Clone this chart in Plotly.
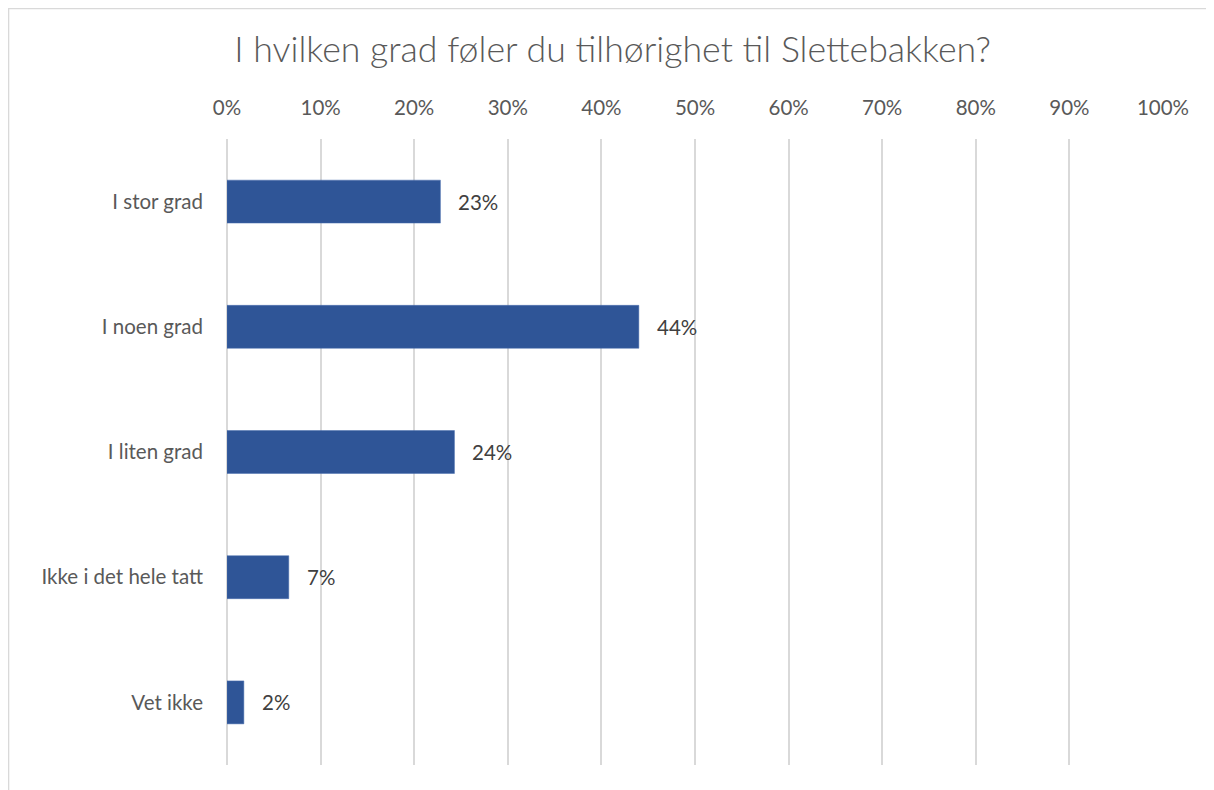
import plotly.graph_objects as go

categories = ['I stor grad', 'I noen grad', 'I liten grad', 'Ikke i det hele tatt', 'Vet ikke']
shares = [0.228, 0.440, 0.243, 0.066, 0.018]
title_text = 'I hvilken grad føler du tilhørighet til Slettebakken?'

fig = go.Figure()
fig.add_trace(go.Bar(
    x=shares, y=categories, orientation='h',
    marker=dict(color='#2f5597', line=dict(color='#4a6faf', width=0.5)),
    hoverinfo='x+y'))

# data labels to the right of each bar
for c, v in zip(categories, shares):
    fig.add_annotation(x=v, y=c, text='{:.0%}'.format(v), showarrow=False,
                       xanchor='left', xshift=16,
                       font=dict(family='Lato', size=20.5, color='#404040'))

# chart-area border (clipped like the original)
fig.add_shape(type='rect', xref='paper', yref='paper',
              x0=-0.2334, x1=1.2, y0=-0.2, y1=1.2085,
              line=dict(color='#d9d9d9', width=1.5), layer='below')

fig.update_layout(
    title=dict(text=title_text, x=0.498, xanchor='center', y=1 - 42 / 790,
               yanchor='middle',
               font=dict(family='Lato', size=35.7, color='#595959', weight=300)),
    width=1214, height=790,
    margin=dict(l=219, r=59, t=131, b=33, pad=0),
    plot_bgcolor='white', paper_bgcolor='white',
    bargap=0.657, showlegend=False,
    font=dict(family='Lato', size=20.5, color='#595959'))

fig.update_xaxes(side='top', range=[0, 1], dtick=0.1, tickformat='.0%',
                 showgrid=True, gridcolor='#d9d9d9', gridwidth=1.5,
                 zeroline=True, zerolinecolor='#d9d9d9', zerolinewidth=1.5,
                 ticklabelstandoff=19, tickfont=dict(size=20.5, color='#595959'),
                 showline=False, fixedrange=True)
fig.update_yaxes(autorange='reversed', showgrid=False, showline=False,
                 ticklabelstandoff=23, tickfont=dict(size=20.5, color='#595959'),
                 fixedrange=True)

fig.write_html('out.html')
